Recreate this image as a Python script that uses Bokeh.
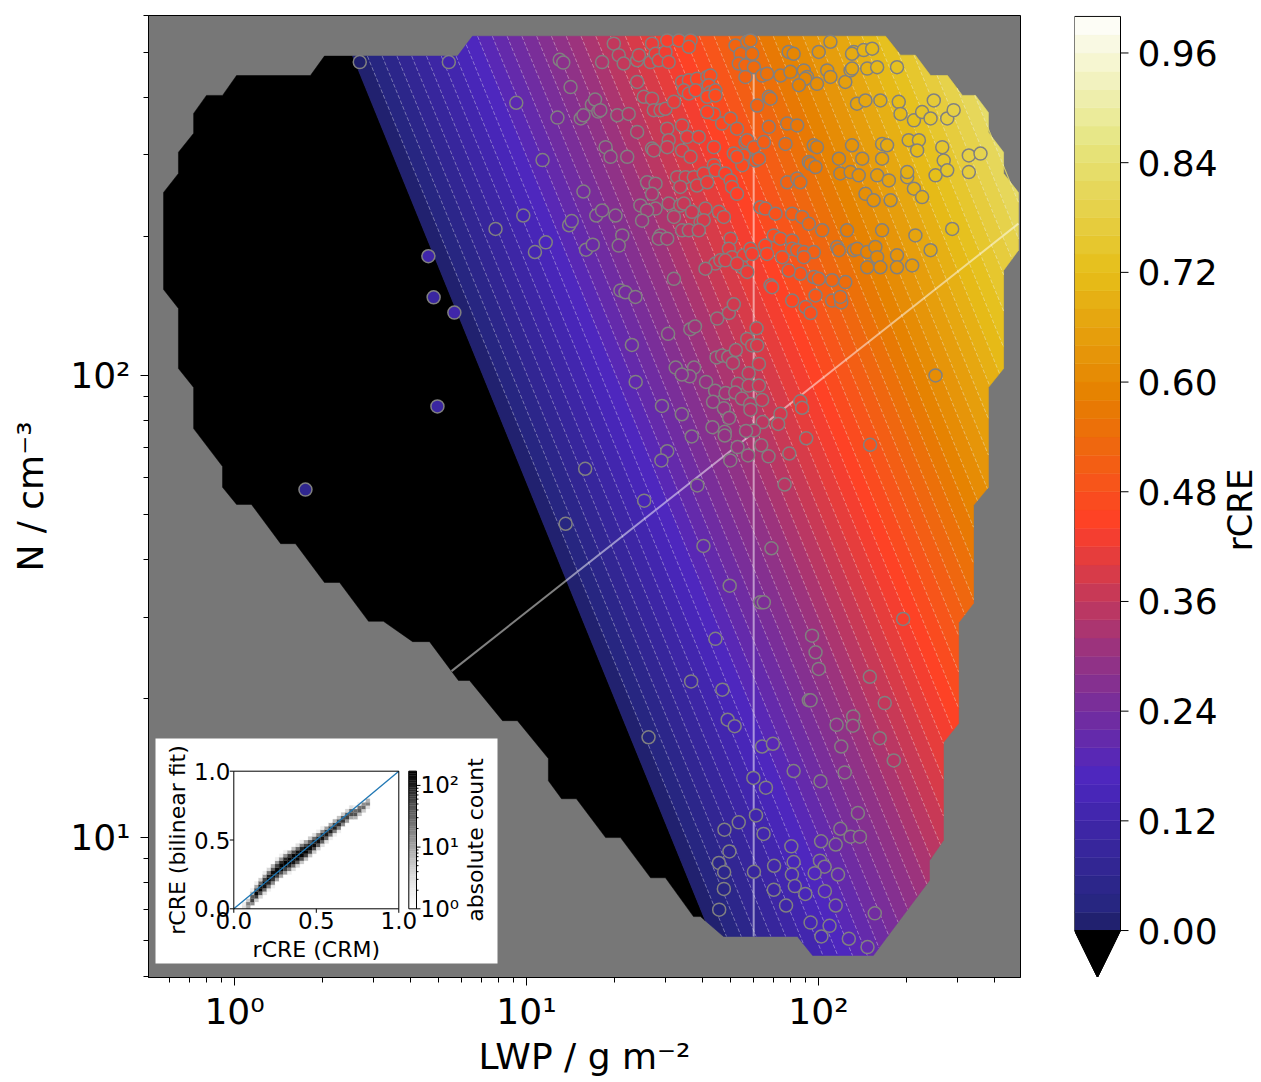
import numpy as np
from math import pi
from bokeh.plotting import figure
from bokeh.layouts import row
from bokeh.models import FixedTicker, Range1d, LinearScale
from bokeh.embed import file_html
from bokeh.resources import INLINE
from bokeh.core.properties import value

FONT = "DejaVu Sans"

# ---------------- data ----------------
# bilinear fit  rCRE = A*log10(LWP) + B*log10(N) + C
fit_coef_lwp = 0.395
fit_coef_n = 0.255
fit_intercept = -0.846
level_step = 0.02
cbar_ticks = [0.0, 0.12, 0.24, 0.36, 0.48, 0.60, 0.72, 0.84, 0.96]

x_lim = (0.5075, 492.0)
y_lim = (4.98, 601.0)
x_major = [1, 10, 100]
x_minor = [0.6, 0.7, 0.8, 0.9, 2, 3, 4, 5, 6, 7, 8, 9, 20, 30, 40, 50, 60, 70, 80, 90, 200, 300, 400]
y_major = [10, 100]
y_minor = [5, 6, 7, 8, 9, 20, 30, 40, 50, 60, 70, 80, 90, 200, 300, 400, 500, 600]

# domain of the simulations (log10 LWP, log10 N)
hull_log = [(0.815, 2.734), (2.230, 2.734), (2.281, 2.693), (2.332, 2.693), (2.384, 2.649), (2.442, 2.649),
            (2.493, 2.606), (2.538, 2.606), (2.582, 2.569), (2.582, 2.526), (2.634, 2.483), (2.634, 2.437),
            (2.685, 2.396), (2.685, 2.271), (2.634, 2.227), (2.634, 2.015), (2.582, 1.974), (2.582, 1.758),
            (2.531, 1.719), (2.531, 1.507), (2.480, 1.465), (2.480, 1.247), (2.428, 1.206), (2.428, 0.994),
            (2.380, 0.950), (2.380, 0.907), (2.188, 0.745), (1.980, 0.745), (1.928, 0.786), (1.675, 0.786),
            (1.596, 0.829), (1.572, 0.829), (1.476, 0.913), (1.425, 0.913), (1.322, 1.000), (1.271, 1.000),
            (1.171, 1.084), (1.120, 1.084), (1.075, 1.123), (1.075, 1.171), (0.969, 1.253), (0.918, 1.253),
            (0.805, 1.340), (0.767, 1.340), (0.668, 1.424), (0.610, 1.424), (0.510, 1.468), (0.459, 1.468),
            (0.360, 1.552), (0.308, 1.552), (0.209, 1.636), (0.158, 1.636), (0.058, 1.721), (0.007, 1.721),
            (-0.041, 1.758), (-0.041, 1.803), (-0.140, 1.885), (-0.140, 1.974), (-0.192, 2.015), (-0.192, 2.145),
            (-0.243, 2.186), (-0.243, 2.396), (-0.192, 2.437), (-0.192, 2.483), (-0.140, 2.524), (-0.140, 2.567),
            (-0.096, 2.606), (-0.041, 2.606), (0.007, 2.649), (0.260, 2.649), (0.308, 2.691), (0.764, 2.691)]

# simulations (log10 LWP, log10 N)
cloud_log = [
    (0.429, 2.678), (0.734, 2.678), (0.965, 2.590), (1.055, 2.466), (1.106, 2.558), (1.114, 2.683), (1.126, 2.677),
    (1.151, 2.624), (1.186, 2.556), (1.195, 2.563), (1.224, 2.586), (1.235, 2.597), (1.246, 2.571), (1.195, 2.398),
    (0.894, 2.317), (0.989, 2.346), (1.029, 2.267), (1.066, 2.288), (1.146, 2.325), (1.155, 2.334), (1.204, 2.272),
    (1.227, 2.283), (1.239, 2.346), (1.201, 1.798), (1.134, 1.679),
    (1.910, 2.162), (1.956, 2.148), (1.973, 2.135), (2.047, 2.162), (2.078, 2.158), (1.693, 2.135), (1.710, 2.154),
    (1.653, 2.123), (1.561, 2.100), (1.577, 2.106), (1.788, 2.102), (1.485, 2.090), (1.756, 2.079), (1.773, 2.065),
    (1.790, 2.065), (1.361, 2.066), (1.651, 2.039), (1.670, 2.043), (1.691, 2.040), (1.707, 2.027), (1.717, 2.055),
    (1.796, 2.025), (1.761, 2.005), (1.511, 2.017), (1.574, 2.017), (1.559, 1.998), (1.532, 2.002), (1.615, 1.986),
    (1.374, 1.986), (1.724, 1.982), (1.761, 1.978), (1.796, 1.978), (1.646, 1.967), (1.682, 1.962), (1.715, 1.963),
    (1.639, 1.943), (1.676, 1.929), (1.694, 1.908), (1.738, 1.950), (1.766, 1.938), (1.767, 1.926), (1.807, 1.947),
    (1.938, 1.944), (1.944, 1.930), (1.870, 1.917), (1.862, 1.895), (1.809, 1.899), (1.779, 1.881), (1.752, 1.880),
    (1.464, 1.934), (1.532, 1.916), (1.637, 1.888), (1.679, 1.878), (1.679, 1.870), (1.566, 1.868), (1.958, 1.864),
    (2.177, 1.850), (1.723, 1.845), (1.804, 1.849), (1.759, 1.827), (1.829, 1.825), (1.900, 1.831), (1.698, 1.816),
    (1.482, 1.836), (1.462, 1.816), (1.585, 1.762), (1.884, 1.764), (1.403, 1.729), (1.606, 1.631), (1.839, 1.626),
    (1.696, 1.545), (2.401, 2.000),
    (1.299, 2.718), (1.316, 2.693), (1.333, 2.675), (1.379, 2.682), (1.385, 2.693), (1.425, 2.678), (1.430, 2.718),
    (1.442, 2.696), (1.453, 2.682), (1.476, 2.700), (1.482, 2.725), (1.487, 2.678), (1.522, 2.725), (1.562, 2.725),
    (1.556, 2.711), (1.259, 2.678), (1.379, 2.635), (1.402, 2.603), (1.430, 2.599), (1.436, 2.574), (1.459, 2.574),
    (1.476, 2.577), (1.505, 2.592), (1.533, 2.635), (1.556, 2.639), (1.584, 2.642), (1.539, 2.617), (1.556, 2.610),
    (1.579, 2.617), (1.619, 2.646), (1.630, 2.649), (1.624, 2.628), (1.630, 2.613), (1.647, 2.617), (1.619, 2.603),
    (1.642, 2.566), (1.619, 2.570), (1.253, 2.574), (1.311, 2.563), (1.350, 2.566), (1.379, 2.527), (1.271, 2.494),
    (1.288, 2.473), (1.345, 2.473), (1.430, 2.491), (1.436, 2.487), (1.482, 2.534), (1.487, 2.509), (1.482, 2.494),
    (1.533, 2.541), (1.550, 2.516), (1.533, 2.487), (1.562, 2.473), (1.590, 2.516), (1.413, 2.418), (1.442, 2.415),
    (1.430, 2.393), (1.516, 2.429), (1.545, 2.429), (1.527, 2.408), (1.573, 2.429), (1.584, 2.411), (1.607, 2.437),
    (1.619, 2.418), (1.642, 2.455), (1.647, 2.444), (1.681, 2.437), (1.699, 2.422), (1.704, 2.408), (1.721, 2.393),
    (1.259, 2.357), (1.305, 2.346), (1.390, 2.368), (1.442, 2.361), (1.413, 2.357), (1.396, 2.335), (1.487, 2.372),
    (1.505, 2.343), (1.527, 2.368), (1.539, 2.372), (1.567, 2.354), (1.613, 2.361), (1.596, 2.332), (1.607, 2.336),
    (1.659, 2.354), (1.676, 2.343), (1.533, 2.314), (1.556, 2.314), (1.590, 2.314), (1.459, 2.303), (1.453, 2.296),
    (1.482, 2.296), (1.328, 2.303), (1.316, 2.281), (1.505, 2.209), (1.322, 2.184), (1.339, 2.180), (1.373, 2.170),
    (1.647, 2.606), (1.670, 2.545), (1.699, 2.556), (1.721, 2.534), (1.750, 2.505), (1.756, 2.509), (1.779, 2.494),
    (1.784, 2.465), (1.710, 2.480), (1.744, 2.476), (1.739, 2.455), (1.642, 2.494), (1.699, 2.296), (1.693, 2.274),
    (1.704, 2.256), (1.744, 2.260), (1.767, 2.274), (1.773, 2.263), (1.739, 2.234), (1.756, 2.224), (1.647, 2.242),
    (1.664, 2.249), (1.681, 2.249), (1.613, 2.231), (1.721, 2.242), (1.721, 2.473), (1.796, 2.469), (1.716, 2.714),
    (1.733, 2.696), (1.727, 2.675), (1.750, 2.671), (1.756, 2.722), (1.773, 2.696), (1.779, 2.667), (1.750, 2.646),
    (1.767, 2.725), (1.790, 2.584),
    (1.807, 2.649), (1.824, 2.653), (1.830, 2.603), (1.836, 2.599), (1.870, 2.649), (1.904, 2.657), (1.898, 2.700),
    (1.915, 2.696), (1.950, 2.660), (1.961, 2.646), (1.955, 2.642), (1.933, 2.628), (1.995, 2.631), (2.001, 2.700),
    (2.030, 2.660), (2.041, 2.646), (2.041, 2.722), (2.092, 2.635), (2.110, 2.660), (2.115, 2.664), (2.121, 2.700),
    (2.115, 2.696), (2.155, 2.704), (2.167, 2.664), (2.184, 2.707), (2.201, 2.667), (2.269, 2.667), (1.830, 2.538),
    (1.813, 2.505), (1.893, 2.545), (1.927, 2.541), (1.887, 2.501), (1.984, 2.498), (1.995, 2.494), (1.967, 2.462),
    (1.973, 2.458), (1.990, 2.451), (1.893, 2.418), (1.927, 2.426), (1.938, 2.418), (2.070, 2.469), (2.075, 2.437),
    (2.110, 2.440), (2.138, 2.433), (2.150, 2.469), (2.115, 2.498), (2.132, 2.588), (2.161, 2.595), (2.212, 2.595),
    (2.218, 2.501), (2.235, 2.498), (2.218, 2.469), (2.201, 2.433), (2.241, 2.422), (2.275, 2.592), (2.281, 2.566),
    (2.327, 2.552), (2.355, 2.570), (2.384, 2.556), (2.395, 2.595), (2.441, 2.556), (2.463, 2.574), (2.309, 2.509),
    (2.344, 2.509), (2.338, 2.487), (2.304, 2.429), (2.304, 2.440), (2.327, 2.404), (2.355, 2.386), (2.401, 2.433),
    (2.424, 2.494), (2.429, 2.465), (2.441, 2.444), (2.515, 2.476), (2.555, 2.480), (2.515, 2.440), (2.161, 2.393),
    (2.189, 2.379), (2.247, 2.379), (1.801, 2.364), (1.818, 2.361), (1.853, 2.350), (1.910, 2.350), (1.944, 2.343),
    (1.967, 2.328), (2.013, 2.314), (2.098, 2.314), (2.218, 2.314), (2.332, 2.303), (2.458, 2.317), (1.847, 2.303),
    (1.870, 2.296), (1.818, 2.281), (1.824, 2.263), (1.876, 2.256), (1.910, 2.292), (1.910, 2.274), (1.927, 2.271),
    (1.950, 2.267), (1.984, 2.267), (1.950, 2.256), (1.938, 2.220), (1.898, 2.227), (1.984, 2.213), (2.001, 2.209),
    (2.047, 2.206), (2.092, 2.202), (2.064, 2.278), (2.070, 2.271), (2.121, 2.271), (2.132, 2.274), (2.167, 2.267),
    (2.195, 2.278), (2.201, 2.256), (2.167, 2.234), (2.212, 2.234), (2.269, 2.260), (2.269, 2.234), (2.321, 2.238),
    (2.384, 2.271), (1.836, 2.195), (1.841, 2.191), (1.990, 2.173), (2.075, 2.170),
    (1.801, 1.509), (1.813, 1.509), (1.647, 1.430), (1.978, 1.437), (1.990, 1.401), (2.001, 1.365), (2.290, 1.473),
    (2.176, 1.348), (2.227, 1.291), (1.967, 1.297), (1.973, 1.297), (2.119, 1.262), (2.118, 1.242), (2.062, 1.244),
    (2.078, 1.197), (2.210, 1.215), (2.258, 1.167), (1.564, 1.338), (1.671, 1.320), (1.689, 1.255), (1.713, 1.241),
    (1.418, 1.217), (1.807, 1.197), (1.844, 1.203), (1.915, 1.144), (2.007, 1.122), (2.090, 1.141), (1.777, 1.129),
    (1.820, 1.108), (2.135, 1.053), (1.786, 1.048), (1.727, 1.033), (1.678, 1.017), (1.812, 1.008), (2.075, 1.019),
    (2.110, 1.002), (2.142, 1.002), (2.009, 0.992), (2.059, 0.985), (1.907, 0.981), (1.695, 0.970), (1.915, 0.947),
    (2.005, 0.950), (2.021, 0.937), (1.987, 0.923), (2.067, 0.920), (1.848, 0.939), (1.779, 0.926), (1.659, 0.945),
    (1.677, 0.925), (1.909, 0.920), (1.919, 0.895), (1.847, 0.887), (1.955, 0.878), (2.022, 0.884), (1.676, 0.889),
    (1.889, 0.853), (2.059, 0.853), (2.193, 0.836), (1.660, 0.844), (1.973, 0.816), (2.038, 0.809), (2.010, 0.786),
    (2.104, 0.781), (2.168, 0.763),
]
# simulations outside the fit's positive range, with their own rCRE
outlier_log_lwp = [0.664, 0.682, 0.753, 0.695, 0.243]
outlier_log_n = [2.258, 2.169, 2.136, 1.933, 1.753]
outlier_rcre = [0.12, 0.10, 0.12, 0.10, 0.06]

lwp_reference = 60.0
diag_log_lwp = [0.747, 2.668]
diag_log_n = [1.362, 2.320]

# inset: 2D histogram of rCRE (CRM) vs rCRE (bilinear fit), bins of 0.025
hist_bin = 0.025
hist_vmax = 170.0
hist_columns = [
    (2, 0, [3, 2]), (3, 0, [10, 20, 5, 1]), (4, 1, [15, 60, 40, 8, 2]), (5, 2, [5, 60, 150, 60, 10, 2]),
    (6, 3, [4, 40, 150, 120, 30, 5, 1]), (7, 4, [3, 30, 120, 150, 60, 12, 2]),
    (8, 5, [2, 20, 90, 160, 100, 25, 4, 1]), (9, 6, [2, 15, 70, 150, 130, 40, 8, 1]),
    (10, 7, [1, 10, 60, 140, 150, 60, 12, 2]), (11, 8, [1, 10, 50, 140, 160, 80, 15, 2]),
    (12, 9, [1, 12, 60, 150, 170, 90, 15, 2]), (13, 10, [2, 20, 90, 170, 170, 70, 10, 1]),
    (14, 11, [3, 30, 120, 170, 160, 50, 6]), (15, 12, [4, 40, 150, 170, 130, 30, 3]),
    (16, 13, [5, 50, 160, 170, 100, 20, 2]), (17, 14, [6, 60, 160, 150, 60, 10, 1]),
    (18, 15, [6, 60, 150, 120, 40, 5]), (19, 16, [5, 50, 140, 100, 30, 3]), (20, 17, [4, 40, 130, 90, 20, 2]),
    (21, 18, [3, 35, 120, 80, 15, 2]), (22, 19, [3, 30, 110, 70, 12, 1]), (23, 20, [2, 25, 100, 60, 10, 1]),
    (24, 21, [2, 20, 90, 60, 8]), (25, 22, [2, 18, 80, 50, 6]), (26, 23, [1, 15, 70, 45, 5]),
    (27, 24, [1, 12, 60, 40, 4]), (28, 25, [1, 10, 50, 35, 3]), (29, 26, [8, 45, 30, 2]),
    (30, 27, [6, 40, 25, 2]), (31, 28, [5, 30, 15, 1]), (32, 29, [3, 20, 8]),
]
inset_ticks = [0.0, 0.5, 1.0]
inset_cbar_major = [1, 10, 100]
inset_cbar_minor = [2, 3, 4, 5, 6, 7, 8, 9, 20, 30, 40, 50, 60, 70, 80, 90]

# ---------------- colour maps ----------------
CMR_X = [0, 0.125, 0.25, 0.375, 0.5, 0.625, 0.75, 0.875, 1.0]
CMR_R = [0.00, 0.15, 0.30, 0.60, 1.00, 0.90, 0.90, 0.90, 1.00]
CMR_G = [0.00, 0.15, 0.15, 0.20, 0.25, 0.50, 0.75, 0.90, 1.00]
CMR_B = [0.00, 0.50, 0.75, 0.50, 0.15, 0.00, 0.10, 0.50, 1.00]
GREY_X = np.linspace(0, 1, 9)
GREY_V = [1.0, 0.941, 0.851, 0.741, 0.588, 0.451, 0.322, 0.145, 0.0]


def to_hex(r, g, b):
    return "#%02x%02x%02x" % (int(round(r * 255)), int(round(g * 255)), int(round(b * 255)))


def rcre_color(v):
    c = 0.1 + 0.9 * min(max(v, 0.0), 1.0)
    return to_hex(np.interp(c, CMR_X, CMR_R), np.interp(c, CMR_X, CMR_G), np.interp(c, CMR_X, CMR_B))


def grey_color(t):
    g = float(np.interp(min(max(t, 0.0), 1.0), GREY_X, GREY_V))
    return to_hex(g, g, g)


A, B, C = fit_coef_lwp, fit_coef_n, fit_intercept


def fit(lx, ly):
    return A * lx + B * ly + C


# ---------------- geometry helpers ----------------
def clip_half(poly, a, b, c):
    out = []
    n = len(poly)
    for i in range(n):
        P = poly[i]
        Q = poly[(i + 1) % n]
        fp = a * P[0] + b * P[1] + c
        fq = a * Q[0] + b * Q[1] + c
        if fp >= 0:
            out.append(P)
        if (fp >= 0) != (fq >= 0):
            t = fp / (fp - fq)
            out.append((P[0] + t * (Q[0] - P[0]), P[1] + t * (Q[1] - P[1])))
    return out


def line_in_poly(poly, a, b, c, dx, dy):
    pts = []
    n = len(poly)
    for i in range(n):
        P = poly[i]
        Q = poly[(i + 1) % n]
        fp = a * P[0] + b * P[1] + c
        fq = a * Q[0] + b * Q[1] + c
        if (fp < 0) != (fq < 0):
            t = fp / (fp - fq)
            pts.append((P[0] + t * (Q[0] - P[0]), P[1] + t * (Q[1] - P[1])))
    pts.sort(key=lambda q: q[0] * dx + q[1] * dy)
    return [(pts[k], pts[k + 1]) for k in range(0, len(pts) - 1, 2)]


def to_data(poly):
    return [10 ** q[0] for q in poly], [10 ** q[1] for q in poly]


# ---------------- main figure ----------------
FX0, FX1, FY0, FY1 = 148.0, 1020.0, 15.0, 977.0    # frame, page pixels
p = figure(frame_width=int(FX1 - FX0), frame_height=int(FY1 - FY0), x_axis_type="log", y_axis_type="log",
           x_range=Range1d(*x_lim), y_range=Range1d(*y_lim),
           output_backend="svg", toolbar_location=None,
           min_border_left=int(FX0), min_border_right=10, min_border_top=int(FY0), min_border_bottom=0)
p.background_fill_color = "#777777"
p.border_fill_color = "white"
p.outline_line_color = "black"
p.outline_line_width = 1
p.xgrid.visible = False
p.ygrid.visible = False

p.xaxis.ticker = FixedTicker(ticks=x_major, minor_ticks=x_minor)
p.yaxis.ticker = FixedTicker(ticks=y_major, minor_ticks=y_minor)
p.xaxis.major_label_overrides = {1: "10⁰", 10: "10¹", 100: "10²"}
p.yaxis.major_label_overrides = {10: "10¹", 100: "10²"}
p.xaxis.axis_label = "LWP / g m⁻²"
p.yaxis.axis_label = "N / cm⁻³"
for ax in (p.xaxis[0], p.yaxis[0]):
    ax.major_label_text_font = FONT
    ax.major_label_text_font_size = "36px"
    ax.major_label_text_color = "black"
    ax.axis_label_text_font = FONT
    ax.axis_label_text_font_size = "36px"
    ax.axis_label_text_font_style = "normal"
    ax.axis_label_text_color = "black"
    ax.major_tick_out = 8
    ax.major_tick_in = 0
    ax.minor_tick_out = 5
    ax.minor_tick_in = 0
    ax.major_tick_line_color = "black"
    ax.minor_tick_line_color = "black"
    ax.axis_line_color = "black"
p.xaxis.major_label_standoff = 5
p.xaxis.axis_label_standoff = 1
p.yaxis.major_label_standoff = 10
p.yaxis.axis_label_standoff = 16

levels = np.round(np.arange(0.0, 1.0 + 1e-9, level_step), 4)

# filled bands
neg = clip_half(hull_log, -A, -B, -C)
bx, by = to_data(neg)
p.patch(bx, by, fill_color="black", line_color="black", line_width=0.5)
band_xs, band_ys, band_cols = [], [], []
for lo, hi in zip(levels[:-1], levels[1:]):
    poly = clip_half(clip_half(hull_log, A, B, C - lo), -A, -B, -(C - hi))
    if len(poly) >= 3:
        xs, ys = to_data(poly)
        band_xs.append(xs)
        band_ys.append(ys)
        band_cols.append(rcre_color(0.5 * (lo + hi)))
p.patches(band_xs, band_ys, fill_color=band_cols, line_color=band_cols, line_width=0.6)

# dashed contour lines
cxs, cys = [], []
for lv in levels[1:]:
    for P, Q in line_in_poly(hull_log, A, B, C - lv, B, -A):
        cxs.append([10 ** P[0], 10 ** Q[0]])
        cys.append([10 ** P[1], 10 ** Q[1]])
p.multi_line(cxs, cys, line_color="white", line_alpha=0.45, line_width=0.8, line_dash="4 2")

# reference lines
lxr = np.log10(lwp_reference)
ref_xs, ref_ys = [], []
for P, Q in line_in_poly(hull_log, 1.0, 0.0, -lxr, 0.0, 1.0):
    ref_xs.append([10 ** P[0], 10 ** Q[0]])
    ref_ys.append([10 ** P[1], 10 ** Q[1]])
ddx = diag_log_lwp[1] - diag_log_lwp[0]
ddy = diag_log_n[1] - diag_log_n[0]
for P, Q in line_in_poly(hull_log, ddy, -ddx, -(ddy * diag_log_lwp[0] - ddx * diag_log_n[0]), ddx, ddy):
    ref_xs.append([10 ** P[0], 10 ** Q[0]])
    ref_ys.append([10 ** P[1], 10 ** Q[1]])
p.multi_line(ref_xs, ref_ys, line_color="white", line_alpha=0.5, line_width=2)

# simulations
cl_x = [10 ** q[0] for q in cloud_log]
cl_y = [10 ** q[1] for q in cloud_log]
cl_c = [rcre_color(fit(q[0], q[1])) for q in cloud_log]
p.scatter(cl_x, cl_y, size=13, fill_color=cl_c, line_color="#808080", line_width=1.5)
p.scatter([10 ** v for v in outlier_log_lwp], [10 ** v for v in outlier_log_n], size=13,
          fill_color=[rcre_color(v) for v in outlier_rcre], line_color="#808080", line_width=1.5)

# ---------------- inset (drawn in its own unit coordinates) ----------------
IX0, IX1 = 233.3, 398.3     # inset frame, page pixels
IY1, IY0 = 770.7, 908.3


def iu(px):
    return (px - IX0) / (IX1 - IX0)


def iv(py):
    return (IY0 - py) / (IY0 - IY1)


p.extra_x_ranges = {"ix": Range1d(iu(FX0), iu(FX1))}
p.extra_y_ranges = {"iy": Range1d(iv(FY1), iv(FY0))}
p.extra_x_scales = {"ix": LinearScale()}
p.extra_y_scales = {"iy": LinearScale()}
kw = dict(x_range_name="ix", y_range_name="iy")

p.quad(left=iu(155), right=iu(497), bottom=iv(963), top=iv(738), fill_color="white", line_color=None, **kw)

lmax = np.log10(hist_vmax)
hl, hr, hb, ht, hc = [], [], [], [], []
for col, r0, counts in hist_columns:
    for k, cnt in enumerate(counts):
        hl.append(col * hist_bin)
        hr.append((col + 1) * hist_bin)
        hb.append((r0 + k) * hist_bin)
        ht.append((r0 + k + 1) * hist_bin)
        hc.append(grey_color(np.log10(cnt) / lmax))
p.quad(left=hl, right=hr, bottom=hb, top=ht, fill_color=hc, line_color=hc, line_width=0.2, **kw)
p.line([0, 1], [0, 1], line_color="#1f77b4", line_width=1.3, **kw)
p.line([0, 1, 1, 0, 0], [0, 0, 1, 1, 0], line_color="black", line_width=1, **kw)

tl = 4.0 / (IX1 - IX0)
tv = 4.0 / (IY0 - IY1)
txs = [[t, t] for t in inset_ticks] + [[0, -tl] for t in inset_ticks]
tys = [[0, -tv] for t in inset_ticks] + [[t, t] for t in inset_ticks]
p.multi_line(txs, tys, line_color="black", line_width=1, **kw)
tick_txt = ["%.1f" % t for t in inset_ticks]
p.text(x=inset_ticks, y=[iv(911)] * 3, text=tick_txt, text_font=value(FONT), text_font_size=value("23px"),
       text_align="center", text_baseline="top", text_color="black", **kw)
p.text(x=[iu(230)] * 3, y=inset_ticks, text=tick_txt, text_font=value(FONT), text_font_size=value("23px"),
       text_align="right", text_baseline="middle", text_color="black", **kw)
p.text(x=[0.5], y=[iv(949)], text=["rCRE (CRM)"], text_font=value(FONT), text_font_size=value("22px"),
       text_align="center", text_baseline="middle", text_color="black", **kw)
p.text(x=[iu(177)], y=[0.5], text=["rCRE (bilinear fit)"], angle=pi / 2, text_font=value(FONT),
       text_font_size=value("22px"), text_align="center", text_baseline="middle", text_color="black", **kw)

cb0, cb1 = iu(408.3), iu(416.0)
nstep = 60
gb = [k / nstep for k in range(nstep)]
gt = [(k + 1) / nstep for k in range(nstep)]
gc = [grey_color((k + 0.5) / nstep) for k in range(nstep)]
p.quad(left=cb0, right=cb1, bottom=gb, top=gt, fill_color=gc, line_color=gc, line_width=0.3, **kw)
p.line([cb0, cb1, cb1, cb0, cb0], [0, 0, 1, 1, 0], line_color="black", line_width=1, **kw)
mj = [np.log10(v) / lmax for v in inset_cbar_major]
mn = [np.log10(v) / lmax for v in inset_cbar_minor]
p.multi_line([[cb1, cb1 + tl] for v in mj] + [[cb1, cb1 + tl * 0.5] for v in mn],
             [[v, v] for v in mj] + [[v, v] for v in mn], line_color="black", line_width=1, **kw)
p.text(x=[iu(420)] * 3, y=mj, text=["10⁰", "10¹", "10²"], text_font=value(FONT), text_font_size=value("23px"),
       text_align="left", text_baseline="middle", text_color="black", **kw)
p.text(x=[iu(475)], y=[0.5], text=["absolute count"], angle=pi / 2, text_font=value(FONT),
       text_font_size=value("22px"), text_align="center", text_baseline="middle", text_color="black", **kw)

# ---------------- colour bar (drawn in its own frame) ----------------
CB_X0, CB_W, CB_RIGHT = 1074.0, 46.0, 1261.0
cb_low = -47.0 / 915.0
cb = figure(frame_width=int(CB_RIGHT - CB_X0), frame_height=int(FY1 - FY0),
            x_range=Range1d(0, (CB_RIGHT - CB_X0) / CB_W), y_range=Range1d(cb_low, 1.001),
            x_axis_location=None, y_axis_location=None, output_backend="svg", toolbar_location=None,
            min_border_left=int(CB_X0 - (FX1 + 10)), min_border_top=int(FY0), min_border_bottom=0,
            min_border_right=0)
cb.outline_line_color = None
cb.xgrid.visible = False
cb.ygrid.visible = False
cb.background_fill_color = "white"
cb_cols = [rcre_color(0.5 * (lo + hi)) for lo, hi in zip(levels[:-1], levels[1:])]
cb.quad(left=0, right=1, bottom=list(levels[:-1]), top=list(levels[1:]), fill_color=cb_cols,
        line_color=cb_cols, line_width=0.5)
cb.patch([0, 1, 0.5], [0, 0, cb_low], fill_color="black", line_color="black")
cb.line([0, 0, 1, 1, 0.5, 0], [0, 1, 1, 0, cb_low, 0], line_color="black", line_width=1)
cb.multi_line([[1, 1 + 8 / CB_W] for t in cbar_ticks], [[t, t] for t in cbar_ticks], line_color="black",
              line_width=1)
cb.text(x=[1 + 17 / CB_W] * len(cbar_ticks), y=cbar_ticks, text=["%.2f" % t for t in cbar_ticks],
        text_font=value(FONT), text_font_size=value("36px"), text_align="left", text_baseline="middle",
        text_color="black")
cb.text(x=[(1239 - CB_X0) / CB_W], y=[(930 - 509) / 915.0], text=["rCRE"], angle=pi / 2,
        text_font=value(FONT), text_font_size=value("34px"), text_align="center", text_baseline="middle",
        text_color="black")

layout = row(p, cb)
open("out.html", "w").write(file_html(layout, INLINE))
